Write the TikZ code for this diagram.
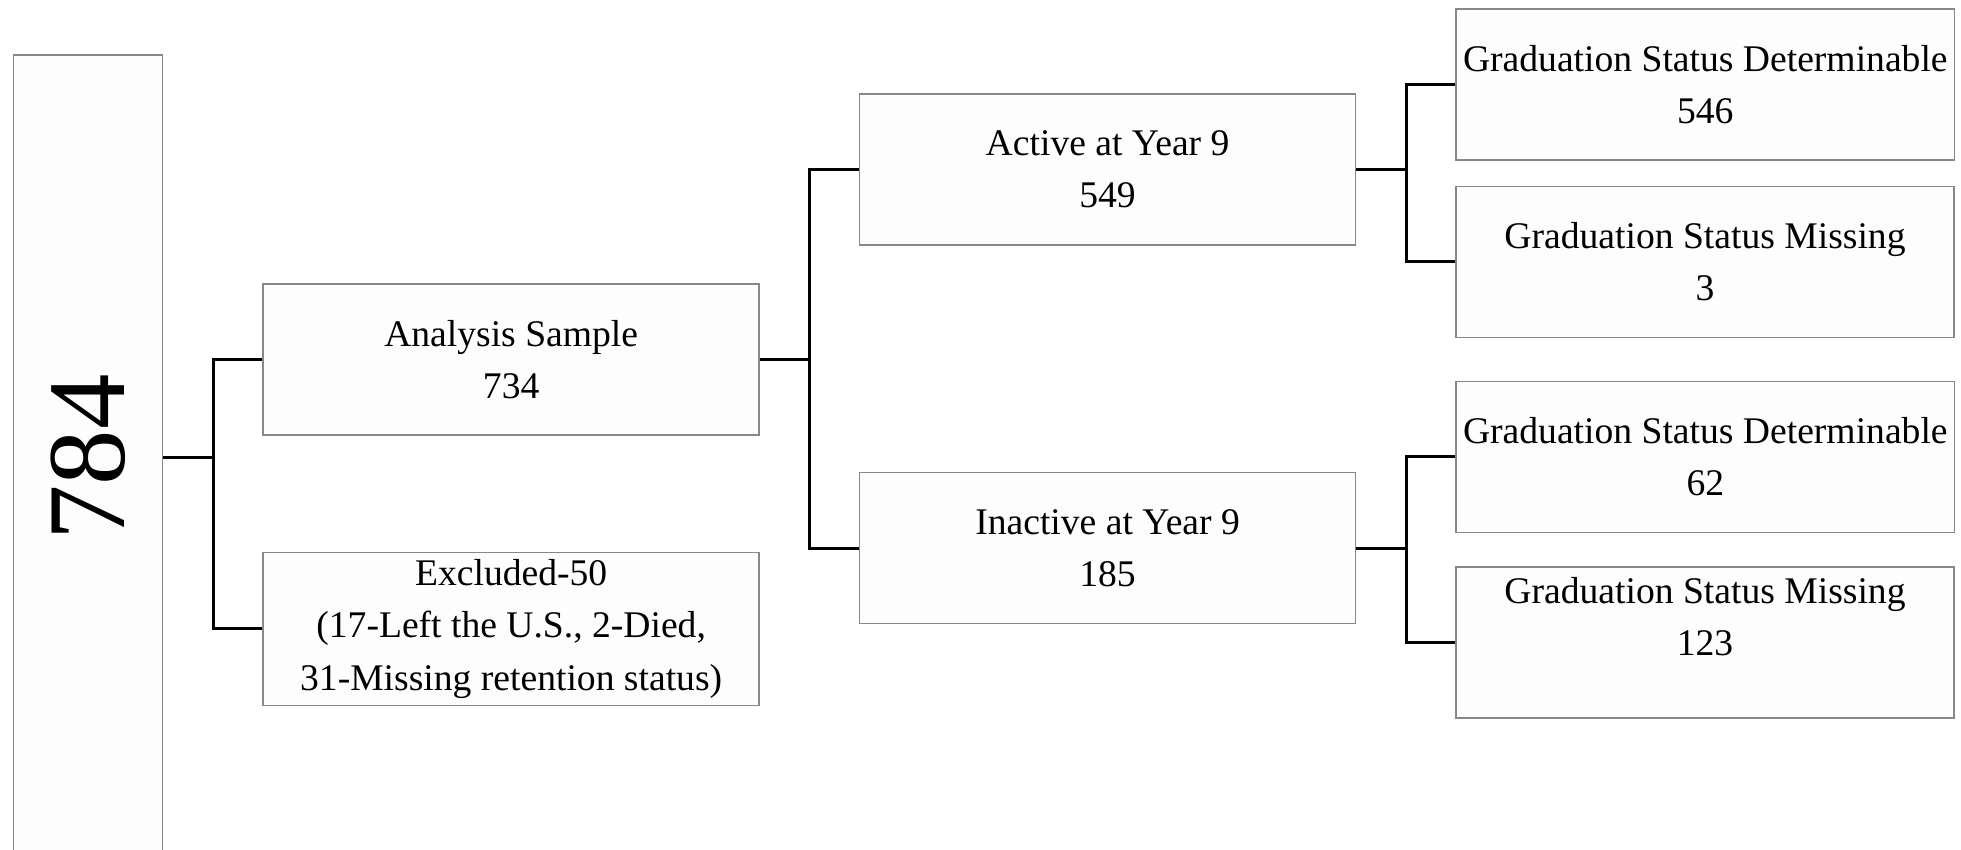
\documentclass[tikz,border=0pt]{standalone}
\usepackage{fontspec}
\setmainfont{Liberation Serif}
\usepackage{tikz}
\usetikzlibrary{positioning}
\definecolor{boxline}{RGB}{136,136,136}
\definecolor{boxfill}{RGB}{253,253,253}

\begin{document}
\begin{tikzpicture}[box/.style={rectangle, draw=boxline, fill=boxfill, line width=0.4pt, inner sep=2pt,
                      minimum width=4.96cm, minimum height=1.51cm, align=center,
                      font=\fontsize{10.7pt}{14.9pt}\selectfont},
                    gradbox/.style={box, minimum width=4.98cm},
                    link/.style={draw, black, line width=0.8pt}]
    \useasboundingbox (0,0) rectangle (19.61,-8.49);
    \node (total)[box, minimum width=1.49cm, minimum height=8.05cm, font=\fontsize{31.5pt}{36pt}\selectfont] at (0.8825,-4.575) {\rotatebox{90}{784}};
    \node (sample)[box, right=0.99cm of total, yshift=0.981cm] {Analysis Sample\\734};
    \node (excluded)[box, right=0.99cm of total, yshift=-1.7125cm] {Excluded-50\\(17-Left the U.S., 2-Died,\\31-Missing retention status)};
    \node (active)[box, right=0.99cm of sample, yshift=1.9cm] {Active at Year 9\\549};
    \node (inactive)[box, right=0.99cm of sample, yshift=-1.887cm] {Inactive at Year 9\\185};
    \node (actdet)[gradbox, right=0.99cm of active, yshift=0.85cm] {Graduation Status Determinable\\546};
    \node (actmis)[gradbox, right=0.99cm of active, yshift=-0.925cm] {Graduation Status Missing\\3};
    \node (inadet)[gradbox, right=0.99cm of inactive, yshift=0.912cm] {Graduation Status Determinable\\62};
    \node (inamis)[gradbox, right=0.99cm of inactive, yshift=-0.944cm] {Graduation Status Missing\\123\\\mbox{}};
    % branches
    \draw[link] (total.east) -- ++(0.5,0) |- (sample.west);
    \draw[link] (total.east) -- ++(0.5,0) |- (excluded.west);
    \draw[link] (sample.east) -- ++(0.5,0) |- (active.west);
    \draw[link] (sample.east) -- ++(0.5,0) |- (inactive.west);
    \draw[link] (active.east) -- ++(0.5,0) |- (actdet.west);
    \draw[link] (active.east) -- ++(0.5,0) |- (actmis.west);
    \draw[link] (inactive.east) -- ++(0.5,0) |- (inadet.west);
    \draw[link] (inactive.east) -- ++(0.5,0) |- (inamis.west);
  \end{tikzpicture}
\end{document}
